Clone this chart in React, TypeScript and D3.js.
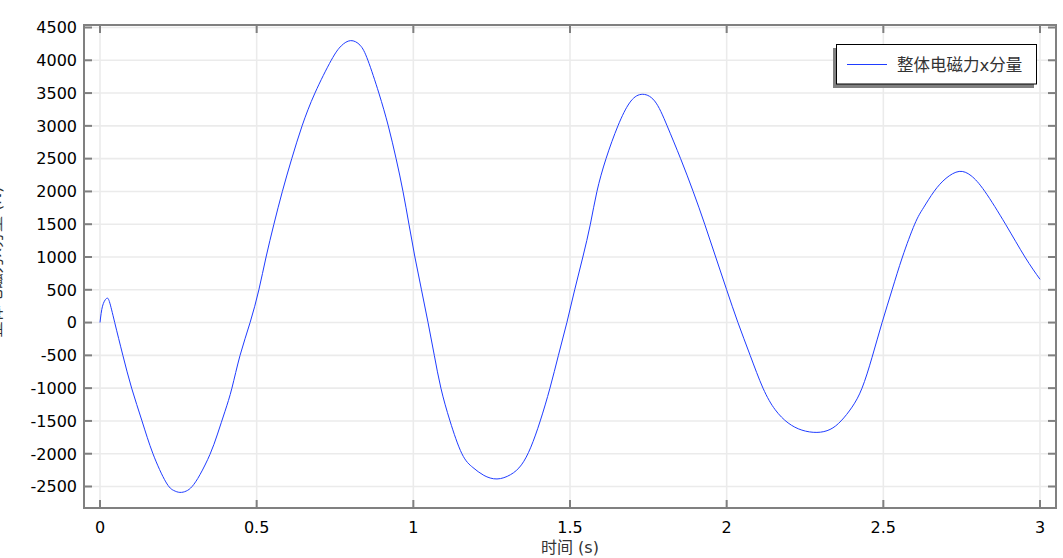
import React from "react";
import * as d3 from "d3";

const timeValues: number[] = [
  0, 0.008, 0.02, 0.03, 0.047, 0.073, 0.101, 0.134, 0.169, 0.21, 0.235, 0.255, 0.275, 0.294, 0.319, 0.351,
  0.375, 0.399, 0.421, 0.447, 0.479, 0.507, 0.53, 0.555, 0.582, 0.612, 0.645, 0.686, 0.738, 0.77, 0.8, 0.83,
  0.855, 0.89, 0.92, 0.945, 0.967, 0.986, 1.005, 1.026, 1.047, 1.067, 1.088, 1.117, 1.155, 1.19, 1.225, 1.267,
  1.31, 1.345, 1.375, 1.405, 1.436, 1.463, 1.49, 1.515, 1.541, 1.565, 1.586, 1.615, 1.653, 1.69, 1.727, 1.77,
  1.81, 1.853, 1.893, 1.93, 1.965, 2.0, 2.036, 2.075, 2.116, 2.155, 2.196, 2.24, 2.288, 2.33, 2.365, 2.4,
  2.432, 2.464, 2.496, 2.528, 2.561, 2.6, 2.628, 2.662, 2.7, 2.742, 2.78, 2.824, 2.89, 2.952, 3.0,
];
const forceX: number[] = [
  0, 250, 365, 320, 0, -500, -1000, -1500, -2000, -2430, -2560, -2590, -2570, -2500, -2320, -2010,
  -1700, -1352, -1000, -500, 0, 500, 1000, 1500, 2000, 2500, 3000, 3500, 4000, 4220, 4300, 4230,
  4000, 3500, 3000, 2500, 2000, 1500, 1000, 500, 0, -500, -1000, -1500, -2000, -2210, -2330, -2385,
  -2320, -2170, -1900, -1500, -1000, -500, 0, 500, 1000, 1500, 2000, 2500, 3000, 3350, 3480, 3380,
  3000, 2500, 2000, 1500, 1000, 500, 0, -500, -1000, -1330, -1530, -1640, -1675, -1630, -1500, -1290,
  -1000, -530, 0, 500, 1000, 1500, 1750, 2000, 2200, 2305, 2240, 2000, 1500, 1000, 660,
];
const xTicks: number[] = [0, 0.5, 1, 1.5, 2, 2.5, 3];
const xTickLabels: string[] = ["0", "0.5", "1", "1.5", "2", "2.5", "3"];
const yTicks: number[] = [-2500, -2000, -1500, -1000, -500, 0, 500, 1000, 1500, 2000, 2500, 3000, 3500, 4000, 4500];
const seriesName = "整体电磁力x分量";
const xAxisTitle = "时间 (s)";
const yAxisTitle = "整体电磁力x分量 (N)";

const W = 1063;
const H = 558;
const frame = { left: 84, right: 1056, top: 25, bottom: 508 };
const FONT = "'DejaVu Sans', 'Noto Sans CJK SC', sans-serif";
const AXIS = "#808080";
const GRID = "#ebebeb";

export default function App() {
  const x = d3.scaleLinear().domain([0, 3]).range([100, 1040]);
  const y = d3.scaleLinear().domain([-2500, 4500]).range([486.5, 27.5]);
  const pts: [number, number][] = timeValues.map((t, i) => [t, forceX[i]]);
  const line = d3
    .line<[number, number]>()
    .x((d) => x(d[0]))
    .y((d) => y(d[1]))
    .curve(d3.curveNatural);
  const path = line(pts) || "";
  const tl = 8;

  return (
    <svg
      width={W}
      height={H}
      style={{ position: "absolute", left: 0, top: 0, display: "block", background: "#fff" }}
      fontFamily={FONT}
    >
      <rect x={0} y={0} width={W} height={H} fill="#fff" />
      {xTicks.map((t) => (
        <line key={"gx" + t} x1={x(t)} x2={x(t)} y1={frame.top} y2={frame.bottom} stroke={GRID} strokeWidth={1.6} />
      ))}
      {yTicks.map((t) => (
        <line key={"gy" + t} x1={frame.left} x2={frame.right} y1={y(t)} y2={y(t)} stroke={GRID} strokeWidth={1.6} />
      ))}
      <path d={path} fill="none" stroke="#1f3cff" strokeWidth={1} />
      <rect
        x={frame.left}
        y={frame.top}
        width={frame.right - frame.left}
        height={frame.bottom - frame.top}
        fill="none"
        stroke={AXIS}
        strokeWidth={2}
      />
      {xTicks.map((t) => (
        <g key={"tx" + t}>
          <line x1={x(t)} x2={x(t)} y1={frame.bottom} y2={frame.bottom - tl} stroke={AXIS} strokeWidth={2} />
          <line x1={x(t)} x2={x(t)} y1={frame.top} y2={frame.top + tl} stroke={AXIS} strokeWidth={2} />
        </g>
      ))}
      {yTicks.map((t) => (
        <g key={"ty" + t}>
          <line x1={frame.left} x2={frame.left + tl} y1={y(t)} y2={y(t)} stroke={AXIS} strokeWidth={2} />
          <line x1={frame.right} x2={frame.right - tl} y1={y(t)} y2={y(t)} stroke={AXIS} strokeWidth={2} />
        </g>
      ))}
      {xTicks.map((t, i) => (
        <text key={"lx" + t} x={x(t)} y={533} textAnchor="middle" fontSize={16} fill="#000">
          {xTickLabels[i]}
        </text>
      ))}
      {yTicks.map((t) => (
        <text key={"ly" + t} x={77} y={y(t) + 5.8} textAnchor="end" fontSize={16} fill="#000">
          {t}
        </text>
      ))}
      <text x={570} y={553} textAnchor="middle" fontSize={16} fill="#333">
        {xAxisTitle}
      </text>
      <text transform={`translate(1, 262) rotate(-90)`} textAnchor="middle" fontSize={16} fill="#333">
        {yAxisTitle}
      </text>
      <rect x={833} y={48} width={201} height={40} fill="#808080" />
      <rect x={836.5} y={44.5} width={200} height={39.5} fill="#fff" stroke="#000" strokeWidth={1} />
      <line x1={847} x2={887} y1={64.5} y2={64.5} stroke="#1f3cff" strokeWidth={1} />
      <text x={897} y={71} fontSize={16.5} fill="#333">
        {seriesName}
      </text>
    </svg>
  );
}
